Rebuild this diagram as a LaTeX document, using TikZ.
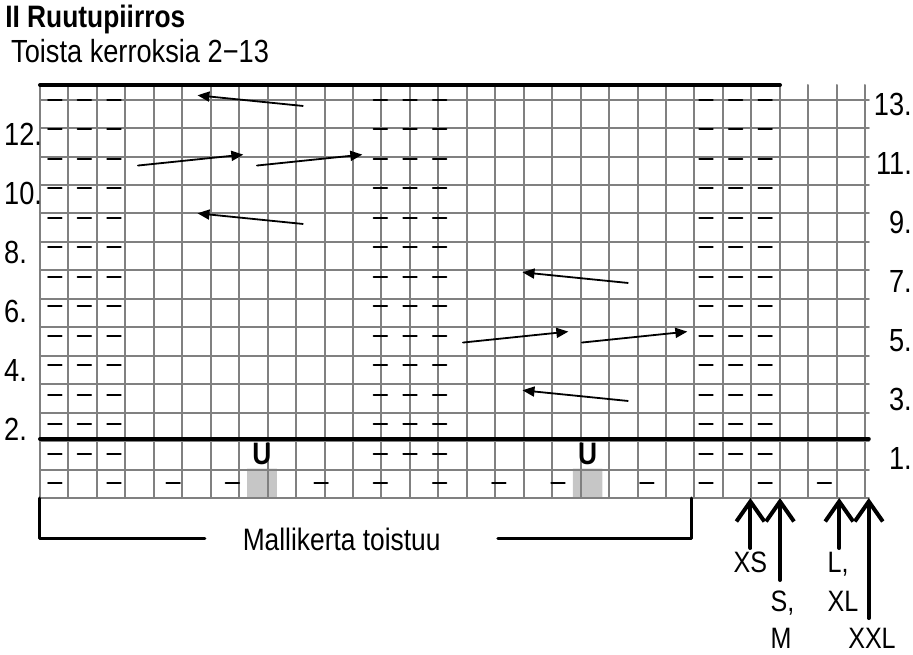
\documentclass[tikz,border=0pt]{standalone}
\usepackage{fontspec}
\setmainfont{Liberation Sans}[FakeStretch=0.85]
\usetikzlibrary{arrows.meta}
\begin{document}
\begin{tikzpicture}[line join = round, line cap = round,x=29.6pt,y=29.5pt,
	>={Triangle[length=12pt,width=10pt]},
	mark line/.style={line width=1.8pt},
	size arrow/.style={line width=4pt,-{Straight Barb[length=20pt,width=28pt]}},
	txt/.style={inner sep=0pt,font=\fontsize{32}{38}\selectfont},
	small txt/.style={inner sep=0pt,font=\fontsize{29.5}{35}\selectfont}]
	\useasboundingbox (-40/29.6,-156/29.5) rectangle (873/29.6,498/29.5);
	\path
	(0,0) coordinate(O)
	(0,-1.356) coordinate(L1)
	(5.57,-1.356) coordinate(L2)
	(15.47,-1.356) coordinate(R2)
	(22,-1.356) coordinate(R1)
	(22,0) coordinate(R0)
	;
	\fill[gray!45] (7,0) rectangle (8,1) (18,0) rectangle (19,1);
	\draw[gray,line width=2pt] (0,0) grid (28,14);
	\draw[line width=4pt] (0,14)--(25,14) (0,2)--(28,2);
	\foreach \c in {0,1,2,11,12,13,22,23,24}
	\foreach \r in {1,...,13}\draw[mark line](\c+0.27,\r+0.5)--(\c+0.73,\r+0.5);
	\foreach \c in {0,2,4,6,9,11,13,15,17,20,22,24,26}\draw[mark line](\c+0.27,0.5)--(\c+0.73,0.5);
	\foreach \c in {7,18}\node[inner sep=0pt,font=\fontsize{31}{37}\selectfont\bfseries] (u\c) at (\c+0.5,1.5){U};
	\foreach \a/\b in {8.88/13,8.88/9,19.86/7,19.86/3}\draw[->,line width=1.8pt](\a,\b+0.29)--(\a-3.56,\b+0.65);
	\foreach \a/\b in {3.31/11,7.33/11,14.29/5,18.31/5}\draw[->,line width=1.8pt](\a,\b+0.27)--(\a+3.56,\b+0.64);
	\foreach \r in {2,4,...,12}\node[txt,anchor=base west] (l\r) at (-36/29.6,\r-0.05){\r.};
	\foreach \r in {1,3,...,13}\node[txt,anchor=base east] (r\r) at (872/29.6,\r-0.04){\r.};
	\node[inner sep=0pt,anchor=base west,font=\fontsize{31}{37}\selectfont\bfseries] (title) at (-1.18,15.966){II Ruutupiirros};
	\node[txt,anchor=base west] (sub) at (-0.98,14.746){Toista kerroksia 2−13};
	\draw[line width=3pt] (O)--(L1)--(L2) (R2)--(R1)--(R0);
	\node[inner sep=0pt,anchor=base,font=\fontsize{31}{37}\selectfont] (rep) at (10.19,-1.763){Mallikerta toistuu};
	\foreach \c/\l in {24/1.695,25/2.78,27/1.695,28/4.07}\draw[size arrow](\c,-\l)--(\c,0);
	\node[small txt,anchor=base] (xs) at (24,-2.54){XS};
	\node[small txt,anchor=base west] (s) at (24.68,-3.864){S,};
	\node[small txt,anchor=base west] (m) at (24.68,-5.085){M};
	\node[small txt,anchor=base west] (l) at (26.6,-2.54){L,};
	\node[small txt,anchor=base west] (xl) at (26.6,-3.864){XL};
	\node[small txt,anchor=base west] (xxl) at (27.3,-5.085){XXL};
\end{tikzpicture}
\end{document}
